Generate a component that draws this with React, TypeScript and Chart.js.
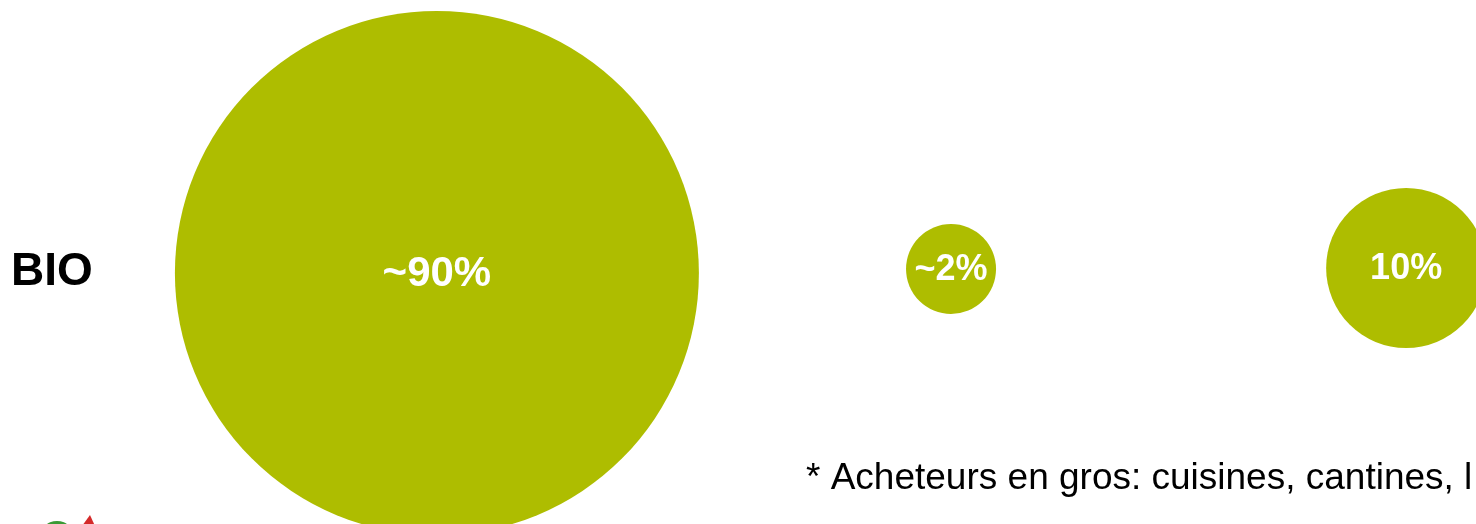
import React, { useEffect, useRef } from "react";
import { Chart, registerables } from "chart.js";

Chart.register(...registerables);

const rowLabel = "BIO";
const bubbleLabels = ["~90%", "~2%", "10%"];
const bubbleLabelSizes = [42, 36, 36];
const bubbleX = [0.888, 1.933, 2.858];
const bubbleY = [-0.016, 0, 0.004];
const bubbleRadius = [262, 45, 80];
const footnote = "* Acheteurs en gros: cuisines, cantines, l";

const GREEN = "#AEBD00";
const FONT = "'Liberation Sans', Arial, sans-serif";

const decorPlugin = {
  id: "decor",
  afterDatasetsDraw(chart: any) {
    const ctx = chart.ctx;
    const meta = chart.getDatasetMeta(0);
    ctx.save();
    // bubble labels
    ctx.fillStyle = "#ffffff";
    ctx.textAlign = "center";
    ctx.textBaseline = "middle";
    meta.data.forEach((el: any, i: number) => {
      ctx.font = `bold ${bubbleLabelSizes[i]}px ${FONT}`;
      ctx.fillText(bubbleLabels[i], el.x, el.y + 1);
    });
    // row label
    ctx.fillStyle = "#000000";
    ctx.font = `bold 46px ${FONT}`;
    ctx.textAlign = "left";
    ctx.textBaseline = "middle";
    ctx.fillText(rowLabel, 11, 272);
    // footnote
    ctx.font = `37px ${FONT}`;
    ctx.textBaseline = "alphabetic";
    ctx.fillText(footnote, 806, 489);
    // partial logo
    ctx.fillStyle = "#3a9a35";
    ctx.beginPath();
    ctx.arc(57, 539, 18, 0, Math.PI * 2);
    ctx.fill();
    ctx.fillStyle = "#d42a2a";
    ctx.beginPath();
    ctx.moveTo(90, 515);
    ctx.lineTo(82, 526);
    ctx.lineTo(95, 526);
    ctx.closePath();
    ctx.fill();
    ctx.restore();
  },
};

export default function App() {
  const ref = useRef<HTMLCanvasElement>(null);
  useEffect(() => {
    if (!ref.current) return;
    const chart = new Chart(ref.current, {
      type: "bubble",
      data: {
        datasets: [
          {
            data: bubbleX.map((x, i) => ({ x, y: bubbleY[i], r: bubbleRadius[i] })),
            backgroundColor: GREEN,
            borderWidth: 0,
            hoverBorderWidth: 0,
            clip: false as any,
          },
        ],
      },
      options: {
        responsive: false,
        animation: false,
        layout: { autoPadding: false, padding: { top: 14, left: 0, right: 0, bottom: 0 } },
        plugins: { legend: { display: false }, tooltip: { enabled: false } },
        scales: {
          x: { type: "linear", min: 0, max: 3, display: false },
          y: { type: "linear", min: -1, max: 1, display: false },
        },
      },
      plugins: [decorPlugin],
    });
    return () => chart.destroy();
  }, []);
  return (
    <div style={{ position: "fixed", left: 0, top: 0, width: 1476, height: 524, background: "#fff" }}>
      <canvas ref={ref} width={1476} height={524} style={{ width: 1476, height: 524 }} />
    </div>
  );
}
